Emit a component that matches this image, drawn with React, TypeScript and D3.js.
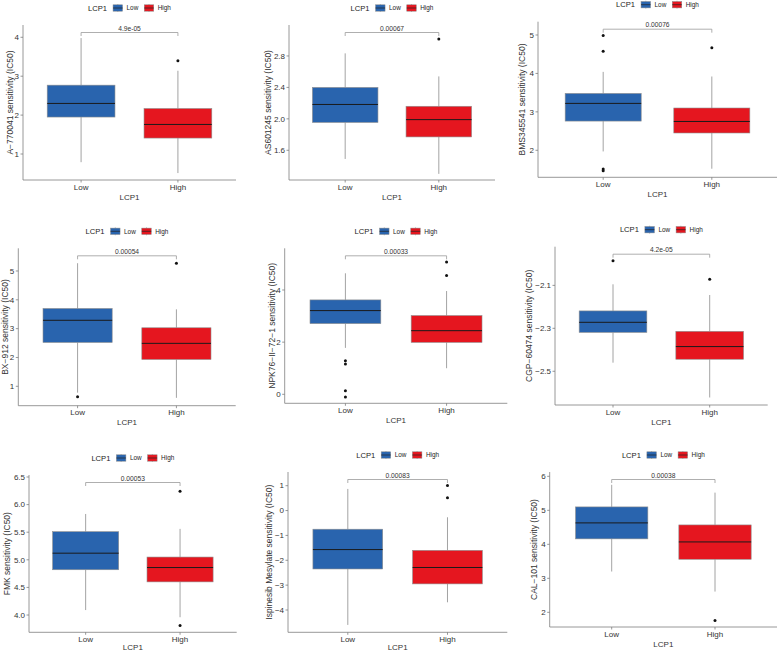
import React from "react";
import * as d3 from "d3";

// ---------- data ----------
const drugs = ["A−770041", "AS601245", "BMS345541", "BX−912", "NPK76−II−72−1", "CGP−60474", "FMK", "Ispinesib Mesylate", "CAL−101"];
const pValues = ["4.9e-05", "0.00067", "0.00076", "0.00054", "0.00033", "4.2e-05", "0.00053", "0.00083", "0.00038"];
const groups = ["Low", "High"];
// [whiskerMin, q1, median, q3, whiskerMax]
const lowStats = [
  [0.79, 1.95, 2.30, 2.77, 3.98],
  [1.49, 1.954, 2.183, 2.40, 2.833],
  [1.97, 2.76, 3.22, 3.48, 4.04],
  [0.78, 2.52, 3.29, 3.70, 5.27],
  [1.78, 2.71, 3.21, 3.62, 4.64],
  [-2.460, -2.319, -2.272, -2.219, -2.095],
  [4.09, 4.82, 5.12, 5.51, 5.83],
  [-4.60, -2.35, -1.57, -0.75, 0.87],
  [3.20, 4.16, 4.63, 5.10, 5.75],
];
const highStats = [
  [0.51, 1.41, 1.76, 2.17, 3.14],
  [1.30, 1.77, 1.99, 2.16, 2.54],
  [1.52, 2.45, 2.75, 3.10, 3.92],
  [0.60, 1.93, 2.49, 3.03, 3.67],
  [1.00, 1.99, 2.44, 3.02, 3.96],
  [-2.622, -2.444, -2.385, -2.314, -2.145],
  [3.96, 4.60, 4.86, 5.05, 5.56],
  [-3.69, -2.95, -2.29, -1.60, -0.27],
  [2.61, 3.56, 4.07, 4.57, 5.52],
];
const lowOutliers = [[], [], [4.99, 4.58, 1.51, 1.47], [0.64], [1.29, 1.16, 0.14, -0.10], [-1.985], [], [], []];
const highOutliers = [[3.40], [3.015], [4.67], [5.27], [5.07, 4.56], [-2.071], [6.24, 3.81], [1.01, 0.52], [1.76]];
const yTicks = [
  [1, 2, 3, 4],
  [1.6, 2.0, 2.4, 2.8],
  [2, 3, 4, 5],
  [1, 2, 3, 4, 5],
  [0, 2, 4],
  [-2.5, -2.3, -2.1],
  [4.0, 4.5, 5.0, 5.5, 6.0, 6.5],
  [-4, -3, -2, -1, 0, 1],
  [2, 3, 4, 5, 6],
];
const tickDecimals = [0, 1, 0, 0, 0, 1, 1, 0, 0];
const yDomains = [
  [0.332, 4.316],
  [1.222, 3.194],
  [1.297, 5.346],
  [0.327, 5.787],
  [-0.345, 5.599],
  [-2.657, -1.920],
  [3.687, 6.536],
  [-4.897, 1.551],
  [1.568, 6.127],
];

// ---------- layout ----------
const frames = [
  { left: 23, right: 236, top: 25, bottom: 180, titleX: 9.8 },
  { left: 289, right: 495, top: 25, bottom: 180, titleX: 268 },
  { left: 538, right: 777, top: 21.7, bottom: 177.3, titleX: 522 },
  { left: 18.3, right: 235.7, top: 248.3, bottom: 405.7, titleX: 4.8 },
  { left: 284.7, right: 507.3, top: 248.3, bottom: 403.3, titleX: 272.3 },
  { left: 555, right: 767.7, top: 246.7, bottom: 405, titleX: 528.7 },
  { left: 29, right: 236.7, top: 475, bottom: 632.3, titleX: 7.3 },
  { left: 288, right: 507.3, top: 472, bottom: 632.3, titleX: 269 },
  { left: 549.7, right: 777, top: 472, bottom: 627, titleX: 534.3 },
];
const colors = ["#2964ae", "#e5161f"];
const FONT = "'Liberation Sans', Arial, Helvetica, sans-serif";
const AXIS = "#7d7d7d";
const minus = (s: string) => s.replace("-", "−");

function Legend({ cx, cy }: { cx: number; cy: number }) {
  const titleW = 19, keyW = 9.5, lowW = 11.7, highW = 13.2;
  const total = titleW + 6 + keyW + 4 + lowW + 6 + keyW + 4 + highW;
  const x0 = cx - total / 2;
  const k1 = x0 + titleW + 6;
  const t1 = k1 + keyW + 4;
  const k2 = t1 + lowW + 6;
  const t2 = k2 + keyW + 4;
  const key = (kx: number, c: string) => (
    <g>
      <line x1={kx + keyW / 2} x2={kx + keyW / 2} y1={cy - 4} y2={cy + 4} stroke="#999" strokeWidth={0.6} />
      <rect x={kx} y={cy - 3.2} width={keyW} height={6.4} fill={c} stroke="#8c8c8c" strokeWidth={0.5} />
      <line x1={kx} x2={kx + keyW} y1={cy} y2={cy} stroke="#222" strokeWidth={0.7} />
    </g>
  );
  return (
    <g fontFamily={FONT}>
      <text x={x0} y={cy} dy="0.35em" fontSize={7.6} fill="#222">LCP1</text>
      {key(k1, colors[0])}
      <text x={t1} y={cy} dy="0.35em" fontSize={6.4} fill="#222">Low</text>
      {key(k2, colors[1])}
      <text x={t2} y={cy} dy="0.35em" fontSize={6.4} fill="#222">High</text>
    </g>
  );
}

function Panel({ i }: { i: number }) {
  const f = frames[i];
  const y = d3.scaleLinear().domain(yDomains[i]).range([f.bottom, f.top]);
  const x = d3.scaleLinear().domain([0.4, 2.6]).range([f.left, f.right]);
  const halfW = x(1.35) - x(1);
  const stats = [lowStats[i], highStats[i]];
  const outs = [lowOutliers[i], highOutliers[i]];
  const fmt = d3.format(`.${tickDecimals[i]}f`);
  const bracketY = f.top + 7.5;
  const cx = (f.left + f.right) / 2;
  const cy = (f.top + f.bottom) / 2;
  const xTitleY = Math.min(f.bottom + 19.5, 649.5);
  return (
    <g fontFamily={FONT}>
      <Legend cx={cx} cy={f.top - 17} />
      <line x1={f.left} x2={f.left} y1={f.top} y2={f.bottom} stroke={AXIS} strokeWidth={0.8} />
      <line x1={f.left} x2={f.right} y1={f.bottom} y2={f.bottom} stroke={AXIS} strokeWidth={0.8} />
      {yTicks[i].map((t) => (
        <g key={t}>
          <line x1={f.left - 2.5} x2={f.left} y1={y(t)} y2={y(t)} stroke={AXIS} strokeWidth={0.8} />
          <text x={f.left - 4} y={y(t)} dy="0.35em" textAnchor="end" fontSize={8} fill="#333">{minus(fmt(t))}</text>
        </g>
      ))}
      {groups.map((g, j) => (
        <g key={g}>
          <line x1={x(j + 1)} x2={x(j + 1)} y1={f.bottom} y2={f.bottom + 2.5} stroke={AXIS} strokeWidth={0.8} />
          <text x={x(j + 1)} y={f.bottom + 9.5} textAnchor="middle" fontSize={8} fill="#333">{g}</text>
        </g>
      ))}
      <text x={cx} y={xTitleY} textAnchor="middle" fontSize={8} fill="#333">LCP1</text>
      <text transform={`translate(${f.titleX},${cy}) rotate(-90)`} dy="0.35em" textAnchor="middle" fontSize={8.5} fill="#333">
        {drugs[i] + " sensitivity (IC50)"}
      </text>
      {stats.map((s, j) => {
        const c = x(j + 1);
        return (
          <g key={j}>
            <line x1={c} x2={c} y1={y(s[0])} y2={y(s[1])} stroke="#8c8c8c" strokeWidth={0.8} />
            <line x1={c} x2={c} y1={y(s[3])} y2={y(s[4])} stroke="#8c8c8c" strokeWidth={0.8} />
            <rect x={c - halfW} y={y(s[3])} width={2 * halfW} height={y(s[1]) - y(s[3])} fill={colors[j]} stroke="#8f8f8f" strokeWidth={0.6} />
            <line x1={c - halfW} x2={c + halfW} y1={y(s[2])} y2={y(s[2])} stroke="#1a1a1a" strokeWidth={1} />
            {outs[j].map((o, k) => (
              <circle key={k} cx={c} cy={y(o)} r={1.5} fill="#111" />
            ))}
          </g>
        );
      })}
      <path d={`M${x(1)},${bracketY + 3.5}V${bracketY}H${x(2)}V${bracketY + 3.5}`} fill="none" stroke="#9a9a9a" strokeWidth={0.8} />
      <text x={(x(1) + x(2)) / 2} y={bracketY - 2} textAnchor="middle" fontSize={6.7} fill="#333">{pValues[i]}</text>
    </g>
  );
}

export default function App() {
  return (
    <svg width={777} height={652} style={{ position: "absolute", left: 0, top: 0, background: "#fff" }}>
      <rect width={777} height={652} fill="#fff" />
      {drugs.map((_, i) => (
        <Panel key={i} i={i} />
      ))}
    </svg>
  );
}
